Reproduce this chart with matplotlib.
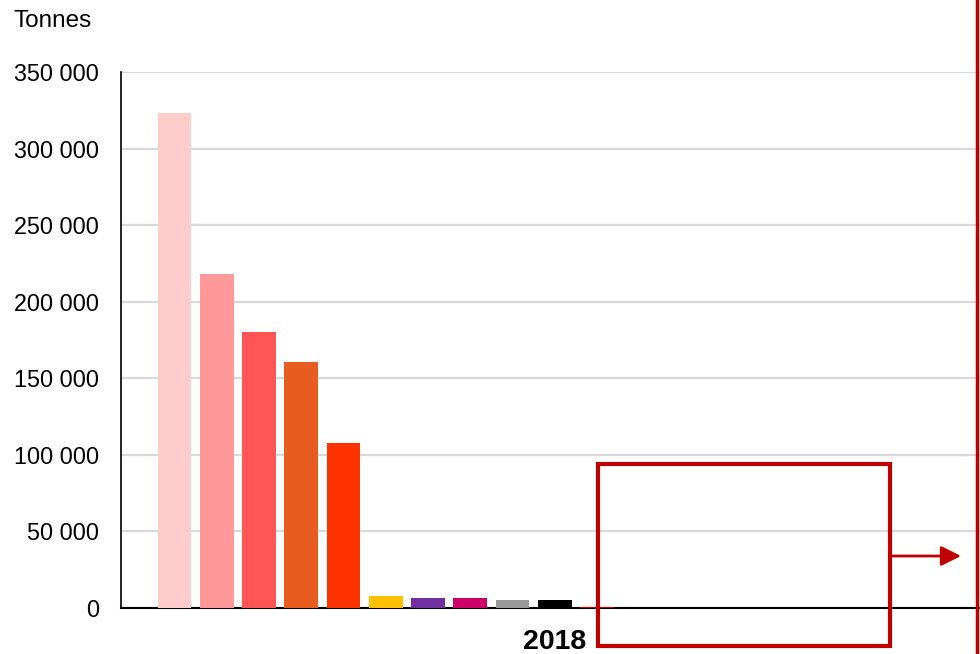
import matplotlib
matplotlib.use("Agg")
import matplotlib.pyplot as plt
from matplotlib.patches import Rectangle, FancyArrowPatch
from matplotlib.lines import Line2D

plt.rcParams['font.family'] = ['Liberation Sans', 'DejaVu Sans']

categories = ["c1", "c2", "c3", "c4", "c5", "c6", "c7", "c8", "c9", "c10", "c11"]
values = [323000, 218000, 180500, 160500, 107500, 7800, 6600, 6600, 5200, 5200, 800]
colors = ["#FFCCCC", "#FF9999", "#FF5555", "#E85C20", "#FF3300", "#FFC000",
          "#7030A0", "#CC0066", "#999999", "#000000", "#C00000"]
yticks = [0, 50000, 100000, 150000, 200000, 250000, 300000, 350000]
ytick_labels = ["0", "50 000", "100 000", "150 000", "200 000", "250 000", "300 000", "350 000"]
year_label = "2018"
unit_label = "Tonnes"

W, H = 980, 654
fig = plt.figure(figsize=(W / 100, H / 100), dpi=100)
ax = fig.add_axes([121 / W, (H - 608) / H, (W - 121) / W, (608 - 72) / H])

x = list(range(len(categories)))
ax.bar(x, values, width=0.80, color=colors, zorder=3)

step = 42.25
ax.set_xlim((121 - 174.5) / step, (980 - 174.5) / step)
ax.set_ylim(0, 350000)
ax.set_yticks(yticks)
ax.set_yticklabels(ytick_labels, fontsize=16.8)
ax.tick_params(axis='y', length=0, pad=16)
ax.set_xticks([])
ax.yaxis.grid(True, color="#D9D9D9", linewidth=1.6, zorder=0)
ax.set_axisbelow(True)
for s in ["top", "right"]:
    ax.spines[s].set_visible(False)
ax.spines["left"].set_color("black")
ax.spines["bottom"].set_color("black")
ax.spines["left"].set_linewidth(1.2)
ax.spines["bottom"].set_linewidth(1.5)

fig.text(13 / W, 1 - 21 / H, unit_label, fontsize=17.5, va="center", ha="left")
fig.text(555 / W, 1 - 642 / H, year_label, fontsize=20.5, fontweight="bold",
         va="center", ha="center")

red = "#C00000"
rect = Rectangle((598 / W, 1 - 646 / H), (890 - 598) / W, (646 - 464) / H,
                 transform=fig.transFigure, fill=False, edgecolor=red,
                 linewidth=3, zorder=10)
fig.add_artist(rect)
arr = FancyArrowPatch((890 / W, 1 - 556 / H), (961 / W, 1 - 556 / H),
                      transform=fig.transFigure, arrowstyle="-|>,head_length=0.8,head_width=0.4",
                      mutation_scale=15, color=red, linewidth=2, zorder=10,
                      shrinkA=0, shrinkB=0)
fig.add_artist(arr)
fig.add_artist(Line2D([977 / W, 977 / W], [0, 1], transform=fig.transFigure,
                      color=red, linewidth=2.5, zorder=10))

fig.savefig("out.png", dpi=100)
